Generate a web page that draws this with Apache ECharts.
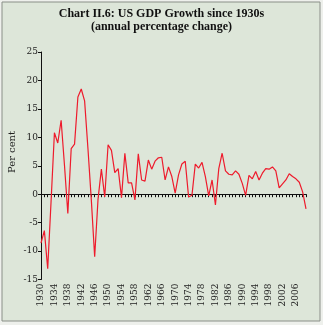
<!DOCTYPE html>
<html><head><meta charset="utf-8">
<script src="https://cdn.jsdelivr.net/npm/echarts@6/dist/echarts.min.js"></script>
<style>html,body{margin:0;padding:0;background:#eef0ec;}#c{width:323px;height:325px;}</style>
</head><body><div id="c"></div>
<script>
const years = [];
for (let y = 1930; y <= 2009; y++) years.push(String(y));
const growth = [
 -8.6, -6.4, -13.1, -1.3, 10.8, 9.0, 13.0, 5.1, -3.4, 8.0,
 8.8, 17.1, 18.5, 16.4, 8.0, -1.0, -11.0, -0.9, 4.4, -0.5,
 8.7, 7.7, 3.8, 4.5, -0.6, 7.2, 2.0, 2.0, -1.0, 7.1,
 2.5, 2.3, 6.0, 4.4, 5.8, 6.4, 6.5, 2.5, 4.8, 3.1,
 0.2, 3.4, 5.3, 5.8, -0.5, -0.2, 5.3, 4.6, 5.6, 3.1,
 -0.3, 2.5, -1.9, 4.5, 7.2, 4.1, 3.5, 3.4, 4.1, 3.5,
 1.9, -0.2, 3.3, 2.7, 4.0, 2.5, 3.7, 4.5, 4.4, 4.8,
 4.1, 1.1, 1.8, 2.5, 3.6, 3.1, 2.7, 2.1, 0.4, -2.6
];
const yTicks = { min: -15, max: 25, interval: 5 };
const titleText = 'Chart II.6: US GDP Growth since 1930s\n(annual percentage change)';
const yName = 'Per cent';

const chart = echarts.init(document.getElementById('c'), null, { renderer: 'canvas' });
const serif = '"DejaVu Serif", serif';
chart.setOption({
  animation: false,
  backgroundColor: '#eef0ec',
  graphic: [
    { type: 'rect', z: -10, shape: { x: 2, y: 2, width: 318, height: 319 },
      style: { fill: '#dde6d9', stroke: '#8a8f88', lineWidth: 1 } },
    { type: 'text', left: 'center', top: 7, z: 10,
      style: { text: titleText, font: 'bold 12px "Liberation Serif", serif', fill: '#111', textAlign: 'center', lineHeight: 13 } },
    { type: 'text', x: 12, y: 152, rotation: Math.PI / 2, z: 10,
      style: { text: yName, font: '10px ' + serif, fill: '#222', textAlign: 'center', textVerticalAlign: 'middle' } }
  ],
  grid: { left: 41, right: 17, top: 52, bottom: 45.5 },
  xAxis: [
    { type: 'category', data: years, boundaryGap: false,
      axisLine: { onZero: true, lineStyle: { color: '#111', width: 1 } },
      axisTick: { show: true, interval: 0, length: 3, lineStyle: { color: '#111' } },
      axisLabel: { show: false }, splitLine: { show: false } },
    { type: 'category', data: years, boundaryGap: false, position: 'bottom',
      axisLine: { show: false, onZero: false }, axisTick: { show: false },
      axisLabel: { interval: 3, rotate: 90, margin: 4, fontFamily: serif, fontSize: 9, color: '#222' },
      splitLine: { show: false } }
  ],
  yAxis: {
    type: 'value', min: yTicks.min, max: yTicks.max, interval: yTicks.interval,
    axisLine: { show: true, lineStyle: { color: '#111' } },
    axisTick: { show: true, length: 3, lineStyle: { color: '#111' } },
    axisLabel: { margin: 3, fontFamily: serif, fontSize: 9, color: '#222' },
    splitLine: { show: false }
  },
  series: [{
    type: 'line', data: growth, xAxisIndex: 0, showSymbol: false, symbol: 'none',
    lineStyle: { color: '#ee1b2c', width: 1.2 }
  }]
});
</script></body></html>
